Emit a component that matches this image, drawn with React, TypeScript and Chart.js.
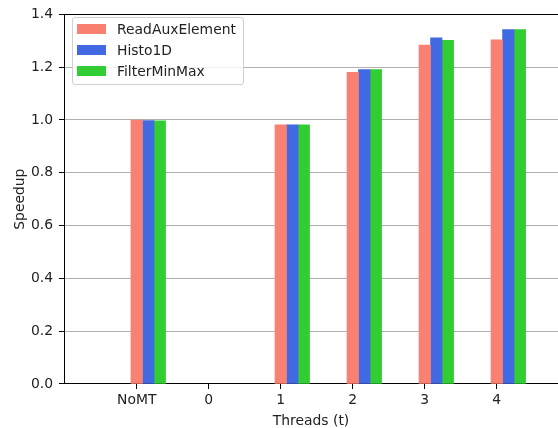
import React, { useEffect, useRef } from 'react';
import { Chart, registerables } from 'chart.js';

Chart.register(...registerables);

const categories = ['NoMT', '0', '1', '2', '3', '4'];
const seriesNames = ['ReadAuxElement', 'Histo1D', 'FilterMinMax'];
const seriesColors = ['#fa8072', '#4169e1', '#32cd32'];
const readAuxElement = [1.0, null, 0.982, 1.18, 1.284, 1.303];
const histo1D = [0.998, null, 0.982, 1.191, 1.311, 1.342];
const filterMinMax = [0.997, null, 0.982, 1.191, 1.302, 1.342];
const seriesValues = [readAuxElement, histo1D, filterMinMax];
const yTicks = [0, 0.2, 0.4, 0.6, 0.8, 1.0, 1.2, 1.4];
const barWidth = 0.16;

const FONT = 'DejaVu Sans';
const FS = 13.9;
const TEXT = '#222';

export default function App() {
  const canvasRef = useRef<HTMLCanvasElement | null>(null);

  useEffect(() => {
    const canvas = canvasRef.current;
    if (!canvas) return;
    const datasets = seriesValues.map((vals, k) => ({
      label: seriesNames[k],
      backgroundColor: seriesColors[k],
      borderWidth: 0,
      grouped: false,
      categoryPercentage: 1,
      barPercentage: 1,
      data: vals
        .map((v, i) => (v == null ? null : { x: i + k * barWidth, y: v }))
        .filter((p) => p !== null),
    }));
    const xMin = -1.01;
    const xMax = 5.85;
    const chart = new Chart(canvas, {
      type: 'bar',
      data: { datasets: datasets as any },
      options: {
        animation: false,
        responsive: false,
        devicePixelRatio: 1,
        layout: { padding: 0 },
        plugins: { legend: { display: false }, tooltip: { enabled: false } },
        scales: {
          x: {
            type: 'linear',
            position: 'bottom',
            min: xMin,
            max: xMax,
            offset: false,
            z: 2,
            afterFit: (s: any) => { s.height = 44; },
            afterBuildTicks: (s: any) => { s.ticks = categories.map((_, i) => ({ value: i })); },
            ticks: {
              callback: (v: any) => categories[Math.round(Number(v))],
              color: TEXT,
              font: { family: FONT, size: FS },
              padding: 3,
              maxRotation: 0,
              autoSkip: false,
            },
            grid: { offset: false, drawOnChartArea: false, drawTicks: true, tickLength: 5, tickColor: '#000' },
            border: { color: '#000', width: 1 },
            title: {
              display: true,
              text: 'Threads (t)',
              color: TEXT,
              font: { family: FONT, size: FS },
              padding: { top: 0, bottom: -1.5 },
            },
          },
          x2: {
            type: 'linear',
            position: 'top',
            min: xMin,
            max: xMax,
            offset: false,
            z: 2,
            afterFit: (s: any) => { s.height = 12; },
            ticks: { display: false },
            grid: { display: false, offset: false },
            border: { display: true, color: '#000', width: 1 },
          },
          y: {
            type: 'linear',
            min: 0,
            max: 1.4,
            z: 1,
            afterFit: (s: any) => { s.width = 64; },
            afterBuildTicks: (s: any) => { s.ticks = yTicks.map((v) => ({ value: v })); },
            ticks: {
              callback: (v: any) => Number(v).toFixed(1),
              color: TEXT,
              font: { family: FONT, size: FS },
              padding: 6,
            },
            grid: {
              color: (ctx: any) => (ctx.tick && (ctx.tick.value === 0 || ctx.tick.value === 1.4) ? 'rgba(0,0,0,0)' : '#b0b0b0'),
              tickColor: '#000',
              tickLength: 5,
              lineWidth: 1,
            },
            border: { color: '#000', width: 1 },
            title: {
              display: true,
              text: 'Speedup',
              color: TEXT,
              font: { family: FONT, size: FS },
              padding: { top: 12.5, bottom: 0 },
            },
          },
        },
      } as any,
    });
    return () => chart.destroy();
  }, []);

  return (
    <div style={{ position: 'absolute', left: 0, top: 0, width: 558, height: 428, overflow: 'hidden', background: '#fff' }}>
      <canvas ref={canvasRef} width={558} height={428} style={{ display: 'block' }} />
      <div
        style={{
          position: 'absolute',
          left: 72,
          top: 16.5,
          width: 172,
          height: 68,
          boxSizing: 'border-box',
          border: '1px solid #d0d0d0',
          borderRadius: 3,
          background: 'rgba(255,255,255,0.8)',
        }}
      >
        {seriesNames.map((name, i) => (
          <div
            key={name}
            style={{
              position: 'absolute',
              left: 4,
              top: 6.3 + i * 21.2,
              height: 10,
              display: 'flex',
              alignItems: 'center',
              whiteSpace: 'nowrap',
            }}
          >
            <div style={{ width: 28.5, height: 10, background: seriesColors[i] }} />
            <span
              style={{
                marginLeft: 11.5,
                fontFamily: FONT,
                fontSize: FS,
                color: TEXT,
                lineHeight: 'normal',
              }}
            >
              {name}
            </span>
          </div>
        ))}
      </div>
    </div>
  );
}
